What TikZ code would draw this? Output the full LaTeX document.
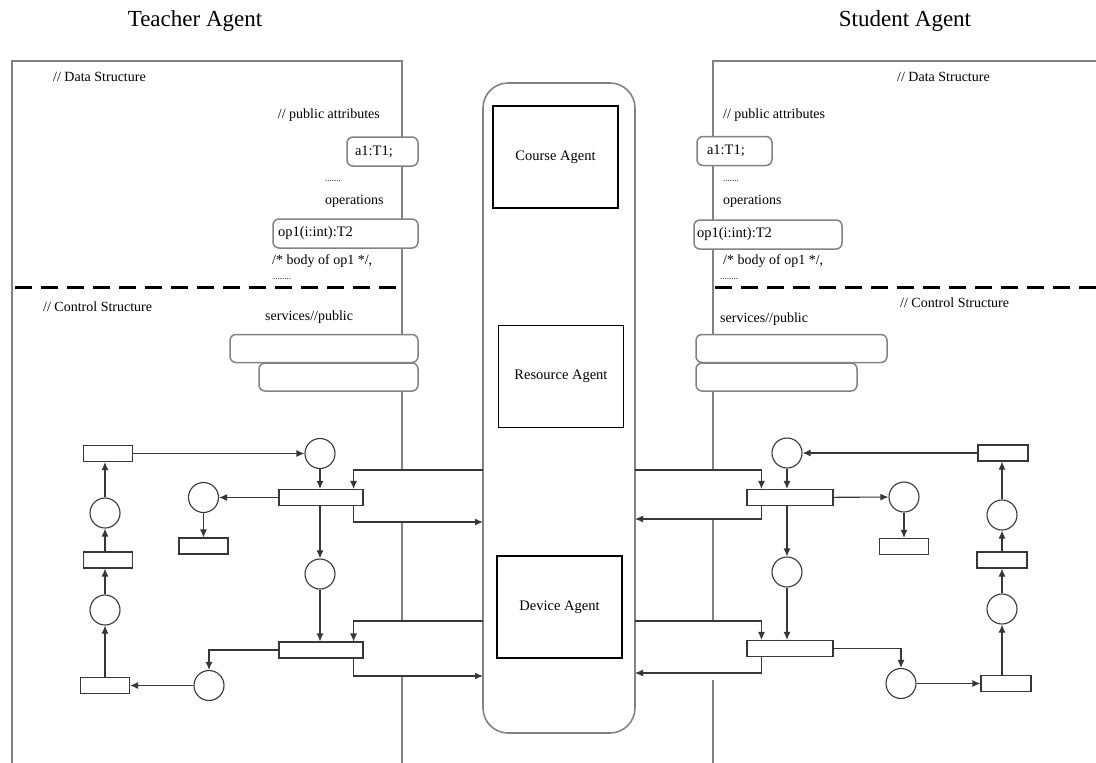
\documentclass[tikz,border=0pt]{standalone}
\usepackage{fontspec}
\setmainfont{Liberation Serif}
\usetikzlibrary{arrows.meta}
\definecolor{framegray}{RGB}{130,130,130}
\definecolor{netgray}{RGB}{55,55,55}
\begin{document}
\begin{tikzpicture}[x=1pt,y=-1pt,
		txt/.style={inner sep=0pt, font=\fontsize{14}{16}\selectfont},
		title/.style={inner sep=0pt, font=\fontsize{23}{26}\selectfont},
		place/.style={circle, draw=netgray, line width=1.1pt, minimum size=30pt, inner sep=0pt},
		trans/.style={rectangle, draw=netgray, line width=1.1pt, minimum height=16pt, inner sep=0pt},
		attr/.style={rectangle, rounded corners=6pt, draw=framegray, line width=1.5pt, fill=white, inner ysep=0pt, minimum height=29pt, align=left, font=\fontsize{14.5}{16}\selectfont},
		srv/.style={rectangle, rounded corners=6pt, draw=framegray, line width=1.5pt, fill=white, inner sep=0pt, minimum height=28pt},
		agent/.style={rectangle, draw=black, line width=1.2pt, minimum width=125pt, minimum height=102pt, inner sep=0pt, font=\fontsize{14.5}{16}\selectfont},
		arc/.style={draw=netgray, line width=1.1pt, -{Latex[length=8pt,width=7pt]}},
		frame/.style={draw=framegray, line width=1.6pt}]
		\useasboundingbox (0,0) rectangle (1096,763);
		% frames of the two agents
		\draw[frame] (12,763) -- (12,61) -- (402,61) -- (402,470);
		\draw[frame] (402,522) -- (402,621);
		\draw[frame] (402,677) -- (402,763);
		\draw[frame] (1096,61) -- (713,61) -- (713,470);
		\draw[frame] (713,519) -- (713,621);
		\draw[frame] (713,680) -- (713,763);
		\draw[line width=3pt, dash pattern=on 17pt off 9pt] (15,287) -- (400,287);
		\draw[line width=3pt, dash pattern=on 17pt off 9pt] (715,287) -- (1096,287);
		\node[title] (teacher) at (195,21) {Teacher Agent};
		\node[title] (student) at (905,21) {Student Agent};
		% teacher data and control structure
		\node[txt, anchor=west] (ldata) at (53,77) {// Data Structure};
		\node[txt, anchor=east] (lpub) at (380,115) {// public attributes};
		\node[attr, inner xsep=8pt, text width=55pt] (la1) at (382.5,151.5) {a1:T1;};
		\node[txt, anchor=west, font=\fontsize{9}{10}\selectfont] (ldots) at (325,181) {.......};
		\node[txt, anchor=west] (lops) at (325,201) {operations};
		\node[attr, inner xsep=5pt, text width=135pt] (lop1) at (345.5,233.5) {op1(i:int):T2};
		\node[txt, anchor=west] (lbody) at (272,261) {/* body of op1 */,};
		\node[txt, anchor=west, font=\fontsize{9}{10}\selectfont] (ldots2) at (273,279) {........};
		\node[txt, anchor=west] (lctrl) at (43,307) {// Control Structure};
		\node[txt, anchor=west] (lsrv) at (265,317) {services//public};
		\node[srv, minimum width=188pt] (lsrv1) at (324,348.5) {};
		\node[srv, minimum width=159pt] (lsrv2) at (338.5,377) {};
		% student data and control structure
		\node[txt, anchor=west] (rdata) at (897,77) {// Data Structure};
		\node[txt, anchor=west] (rpub) at (723,115) {// public attributes};
		\node[attr, inner xsep=10pt, text width=55pt] (ra1) at (734.5,151) {a1:T1;};
		\node[txt, anchor=west, font=\fontsize{9}{10}\selectfont] (rdots) at (723,181) {.......};
		\node[txt, anchor=west] (rops) at (723,201) {operations};
		\node[attr, inner xsep=3pt, text width=142pt] (rop1) at (768,234.5) {op1(i:int):T2};
		\node[txt, anchor=west] (rbody) at (723,261) {/* body of op1 */,};
		\node[txt, anchor=west, font=\fontsize{9}{10}\selectfont] (rdots2) at (720,279) {........};
		\node[txt, anchor=west] (rctrl) at (900,303) {// Control Structure};
		\node[txt, anchor=west] (rsrv) at (720,319) {services//public};
		\node[srv, minimum width=191pt] (rsrv1) at (791.5,348.5) {};
		\node[srv, minimum width=161pt] (rsrv2) at (776.5,377) {};
		% middle column
		\node[rectangle, rounded corners=25pt, draw=framegray, line width=1.6pt, minimum width=152pt, minimum height=650pt] (hub) at (559,408) {};
		\node[agent] (course) at (555.5,157) {Course Agent};
		\node[agent] (resource) at (561,376.5) {Resource Agent};
		\node[agent] (device) at (559.5,607) {Device Agent};
		\coordinate (lin1) at (483,470);
		\coordinate (lout1) at (483,522);
		\coordinate (lin2) at (483,621);
		\coordinate (lout2) at (483,676);
		\coordinate (rin1) at (635,470);
		\coordinate (rout1) at (635,519);
		\coordinate (rin2) at (635,621);
		\coordinate (rout2) at (635,673);
		% teacher net
		\node[trans, minimum width=49pt] (T1) at (108,453.5) {};
		\node[place] (P1) at (320,453.5) {};
		\node[trans, minimum width=84pt] (T2) at (321,497.5) {};
		\node[place] (P2) at (203.5,497.5) {};
		\node[trans, minimum width=49pt] (T3) at (203.5,546) {};
		\node[place] (P3) at (320,574) {};
		\node[trans, minimum width=84pt] (T4) at (321,650) {};
		\node[place] (P4) at (209,685.5) {};
		\node[trans, minimum width=49pt] (T5) at (105,685.5) {};
		\node[place] (P5) at (105,610) {};
		\node[trans, minimum width=49pt] (T6) at (108,560) {};
		\node[place] (P6) at (105,513) {};
		\draw[arc] (T1) -- (P1);
		\draw[arc] (P1) -- (P1 |- T2.north);
		\draw[arc] (lin1) -| ([xshift=-10pt]T2.north east);
		\draw[arc] ([xshift=-10pt]T2.south east) |- (lout1);
		\draw[arc] (T2) -- (P2);
		\draw[arc] (P2) -- (T3);
		\draw[arc] (P3 |- T2.south) -- (P3);
		\draw[arc] (P3) -- (P3 |- T4.north);
		\draw[arc] (lin2) -| ([xshift=-10pt]T4.north east);
		\draw[arc] ([xshift=-10pt]T4.south east) |- (lout2);
		\draw[arc] (T4.west) -| (P4.north);
		\draw[arc] (P4) -- (T5);
		\draw[arc] (T5.north -| P5) -- (P5);
		\draw[arc] (P5) -- (P5 |- T6.south);
		\draw[arc] (P5 |- T6.north) -- (P6);
		\draw[arc] (P6) -- (P6 |- T1.south);
		% student net
		\node[trans, minimum width=50pt] (U1) at (1003,453) {};
		\node[place] (Q1) at (787,453) {};
		\node[trans, minimum width=86pt] (U2) at (790,497.5) {};
		\node[place] (Q2) at (904,497) {};
		\node[trans, minimum width=49pt] (U3) at (904,546.5) {};
		\node[place] (Q3) at (787,572) {};
		\node[trans, minimum width=86pt] (U4) at (790,648.5) {};
		\node[place] (Q4) at (901,683.5) {};
		\node[trans, minimum width=50pt] (U5) at (1006,683.5) {};
		\node[place] (Q5) at (1002,609) {};
		\node[trans, minimum width=50pt] (U6) at (1002,560) {};
		\node[place] (Q6) at (1002,515) {};
		\draw[arc] (U1) -- (Q1);
		\draw[arc] (Q1) -- (Q1 |- U2.north);
		\draw[arc] (rin1) -| ([xshift=15pt]U2.north west);
		\draw[arc] ([xshift=15pt]U2.south west) |- (rout1);
		\draw[arc] (U2) -- (Q2);
		\draw[arc] (Q2) -- (U3);
		\draw[arc] (Q3 |- U2.south) -- (Q3);
		\draw[arc] (Q3) -- (Q3 |- U4.north);
		\draw[arc] (rin2) -| ([xshift=15pt]U4.north west);
		\draw[arc] ([xshift=15pt]U4.south west) |- (rout2);
		\draw[arc] (U4.east) -| (Q4.north);
		\draw[arc] (Q4) -- (U5);
		\draw[arc] (Q5 |- U5.north) -- (Q5);
		\draw[arc] (Q5) -- (U6);
		\draw[arc] (U6) -- (Q6);
		\draw[arc] (Q6) -- (Q6 |- U1.south);
\end{tikzpicture}
\end{document}
